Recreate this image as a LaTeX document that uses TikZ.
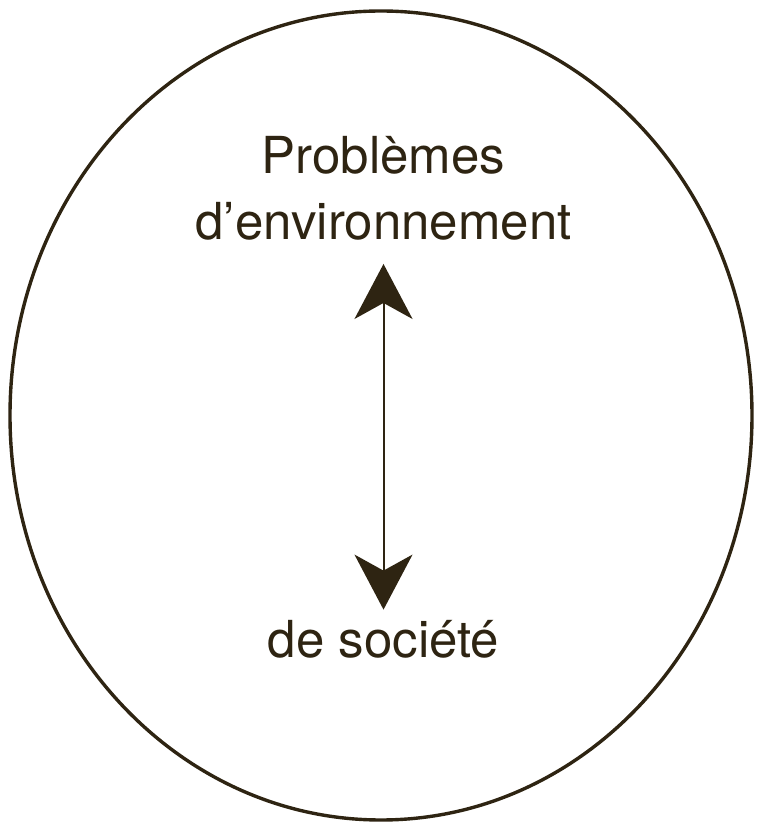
\documentclass[tikz,border=0pt]{standalone}
\usepackage{fontspec}
\setmainfont{TeX Gyre Heros}
\usetikzlibrary{arrows.meta}
\definecolor{ink}{RGB}{46,36,18}

\begin{document}
\begin{tikzpicture}[x=1pt, y=1pt]
        \tikzset{label/.style={inner sep=0pt, anchor=base, text=ink, font=\fontsize{51}{61}\selectfont}}
        \tikzset{link/.style={{Stealth[length=55pt, width=58pt, inset=16pt]}-{Stealth[length=55pt, width=58pt, inset=16pt]}, line width=2pt, ink}}
        \pgfmathsetmacro{\cx}{383.5}
        \useasboundingbox (0,0) rectangle (759,828);
        \draw[line width=3.4pt, ink] (381,412.5) ellipse (371 and 404.5);
        \node[label] (prob) at (\cx,654) {Problèmes};
        \node[label] (env) at (\cx,588) {d’environnement};
        \node[label] (soc) at (\cx,170) {de société};
        \draw[link, shorten <=23pt, shorten >=11pt] (env.south) -- (soc.north);
    \end{tikzpicture}
\end{document}
